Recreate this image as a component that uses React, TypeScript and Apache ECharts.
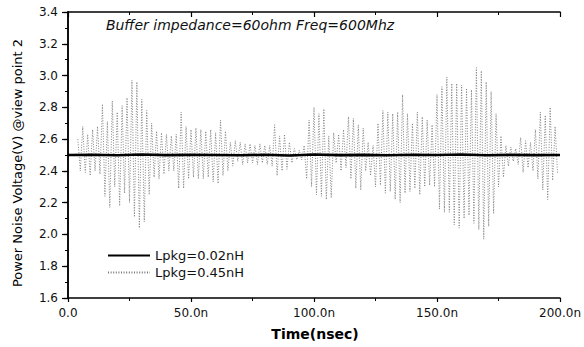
import React, { useEffect, useRef } from "react";
import * as echarts from "echarts";

// ---- data ----
const TITLE_TEXT = "Buffer impedance=60ohm Freq=600Mhz";
const X_TITLE = "Time(nsec)";
const Y_TITLE = "Power Noise Voltage(V) @view point 2";
const SERIES_NAMES = ["Lpkg=0.02nH", "Lpkg=0.45nH"];

const X_TICK_VALUES = [0, 50, 100, 150, 200];
const X_TICK_LABELS = ["0.0", "50.0n", "100.0n", "150.0n", "200.0n"];
const Y_MIN = 1.6;
const Y_MAX = 3.4;
const Y_STEP = 0.2;

// Lpkg=0.02nH : nearly flat at 2.5 V
const SOLID_T = [0, 10, 20, 30, 40, 50, 60, 70, 80, 90, 100, 110, 120, 130, 140, 150, 160, 170, 180, 190, 200];
const SOLID_V = [2.5, 2.502, 2.498, 2.503, 2.499, 2.501, 2.5, 2.498, 2.502, 2.497, 2.503, 2.499, 2.501, 2.498, 2.502, 2.5, 2.503, 2.498, 2.501, 2.499, 2.5];

// Lpkg=0.45nH : ringing, upper and lower peaks every 2 ns starting at 4 ns
const RING_START_NS = 4;
const RING_STEP_NS = 2;
const RING_UPPER = [
  2.60, 2.68, 2.63, 2.66, 2.68, 2.82, 2.71, 2.84, 2.77, 2.81, 2.86, 2.97, 2.96, 2.85, 2.78, 2.70, 2.65, 2.64, 2.63,
  2.62, 2.63, 2.77, 2.68, 2.66, 2.67, 2.66, 2.65, 2.66, 2.64, 2.72, 2.65, 2.58, 2.59, 2.58, 2.57, 2.57, 2.56, 2.57, 2.56,
  2.56, 2.69, 2.62, 2.63, 2.58, 2.54, 2.53, 2.56, 2.72, 2.80, 2.76, 2.79, 2.62, 2.64, 2.63, 2.66, 2.74, 2.73, 2.69, 2.67,
  2.58, 2.56, 2.70, 2.78, 2.77, 2.76, 2.77, 2.88, 2.76, 2.70, 2.77, 2.74, 2.72, 2.69, 2.88, 2.93, 2.99, 2.95, 2.95, 2.94,
  2.92, 2.91, 3.05, 3.03, 2.96, 2.90, 2.76, 2.62, 2.56, 2.55, 2.54, 2.61, 2.59, 2.58, 2.66, 2.77, 2.75, 2.80, 2.68,
];
const RING_LOWER = [
  2.40, 2.39, 2.37, 2.40, 2.38, 2.24, 2.17, 2.30, 2.18, 2.26, 2.20, 2.11, 2.04, 2.08, 2.25, 2.36, 2.35, 2.38, 2.40,
  2.40, 2.29, 2.29, 2.35, 2.36, 2.35, 2.35, 2.36, 2.33, 2.32, 2.37, 2.40, 2.43, 2.46, 2.44, 2.45, 2.45, 2.44, 2.45, 2.44,
  2.43, 2.37, 2.40, 2.41, 2.45, 2.47, 2.47, 2.35, 2.30, 2.25, 2.24, 2.22, 2.23, 2.45, 2.40, 2.42, 2.35, 2.29, 2.28, 2.40,
  2.37, 2.30, 2.31, 2.26, 2.27, 2.22, 2.20, 2.26, 2.27, 2.29, 2.25, 2.30, 2.31, 2.30, 2.16, 2.14, 2.14, 2.06, 2.04, 2.10,
  2.12, 2.07, 2.03, 1.97, 2.05, 2.13, 2.30, 2.36, 2.43, 2.46, 2.44, 2.39, 2.42, 2.40, 2.35, 2.28, 2.22, 2.34, 2.38,
];

const FONT = "'DejaVu Sans', Arial, sans-serif";

export default function App() {
  const ref = useRef<HTMLDivElement>(null);

  useEffect(() => {
    if (!ref.current) return;
    const chart = echarts.init(ref.current, undefined, { renderer: "svg" });

    const solidData = SOLID_T.map((t, i) => [t, SOLID_V[i]]);
    const ringData: number[][] = [];
    RING_UPPER.forEach((u, i) => {
      const t = RING_START_NS + i * RING_STEP_NS;
      ringData.push([t, u]);
      ringData.push([t + RING_STEP_NS / 2, RING_LOWER[i]]);
    });

    const labelStyle = { fontFamily: FONT, fontSize: 12, color: "#111" };

    chart.setOption({
      animation: false,
      backgroundColor: "#fff",
      grid: { left: 68, right: 23, top: 12, bottom: 49, containLabel: false },
      legend: {
        orient: "vertical",
        left: 102,
        top: 244,
        itemWidth: 42,
        itemHeight: 12,
        itemGap: 4,
        data: SERIES_NAMES,
        itemStyle: { opacity: 0 },
        textStyle: { fontFamily: FONT, fontSize: 13, color: "#111" },
      },
      xAxis: [
        {
          type: "value",
          min: 0,
          max: 200,
          interval: 50,
          position: "bottom",
          axisLine: { lineStyle: { color: "#000", width: 1.5 } },
          axisTick: { show: true, inside: false, length: 4, lineStyle: { color: "#000", width: 1.2 } },
          minorTick: { show: true, splitNumber: 2, length: 3, lineStyle: { color: "#000" } },
          splitLine: { show: false },
          axisLabel: {
            ...labelStyle,
            margin: 9,
            formatter: (v: number) => {
              const idx = X_TICK_VALUES.indexOf(v);
              return idx >= 0 ? X_TICK_LABELS[idx] : "";
            },
          },
        },
        {
          type: "value",
          min: 0,
          max: 200,
          interval: 50,
          position: "top",
          axisLine: { lineStyle: { color: "#000", width: 1.5 } },
          axisTick: { show: true, inside: true, length: 5, lineStyle: { color: "#000", width: 1.2 } },
          minorTick: { show: true, splitNumber: 2, length: 3, lineStyle: { color: "#000" } },
          splitLine: { show: false },
          axisLabel: { show: false },
        },
      ],
      yAxis: [
        {
          type: "value",
          min: Y_MIN,
          max: Y_MAX,
          interval: Y_STEP,
          position: "left",
          axisLine: { show: true, lineStyle: { color: "#000", width: 1.5 } },
          axisTick: { show: true, inside: false, length: 4, lineStyle: { color: "#000", width: 1.2 } },
          minorTick: { show: true, splitNumber: 2, length: 3, lineStyle: { color: "#000" } },
          splitLine: { show: false },
          axisLabel: { ...labelStyle, margin: 10, formatter: (v: number) => v.toFixed(1) },
        },
        {
          type: "value",
          min: Y_MIN,
          max: Y_MAX,
          interval: Y_STEP,
          position: "right",
          axisLine: { show: true, lineStyle: { color: "#000", width: 1.5 } },
          axisTick: { show: true, inside: true, length: 6, lineStyle: { color: "#000", width: 1.2 } },
          minorTick: { show: true, splitNumber: 2, length: 3, lineStyle: { color: "#000" } },
          splitLine: { show: false },
          axisLabel: { show: false },
        },
      ],
      graphic: [
        {
          type: "text",
          x: 250,
          y: 25,
          style: {
            text: TITLE_TEXT,
            fontFamily: FONT,
            fontSize: 14,
            fontStyle: "italic",
            fill: "#111",
            textAlign: "center",
            textVerticalAlign: "middle",
          },
        },
        {
          type: "text",
          x: 315,
          y: 334,
          style: {
            text: X_TITLE,
            fontFamily: FONT,
            fontSize: 14,
            fontWeight: "bold",
            fill: "#000",
            textAlign: "center",
            textVerticalAlign: "middle",
          },
        },
        {
          type: "text",
          x: 17,
          y: 163,
          rotation: Math.PI / 2,
          style: {
            text: Y_TITLE,
            fontFamily: FONT,
            fontSize: 13,
            fill: "#000",
            textAlign: "center",
            textVerticalAlign: "middle",
          },
        },
      ],
      series: [
        {
          name: SERIES_NAMES[1],
          type: "line",
          data: ringData,
          symbol: "none",
          z: 2,
          lineStyle: { color: "#777", width: 0.9, type: [1, 1.6] },
          itemStyle: { color: "#777" },
        },
        {
          name: SERIES_NAMES[0],
          type: "line",
          data: solidData,
          symbol: "none",
          z: 3,
          lineStyle: { color: "#000", width: 2.6 },
          itemStyle: { color: "#000" },
        },
      ],
    });

    return () => chart.dispose();
  }, []);

  return <div ref={ref} style={{ width: 584, height: 347, position: "fixed", left: 0, top: 0 }} />;
}
